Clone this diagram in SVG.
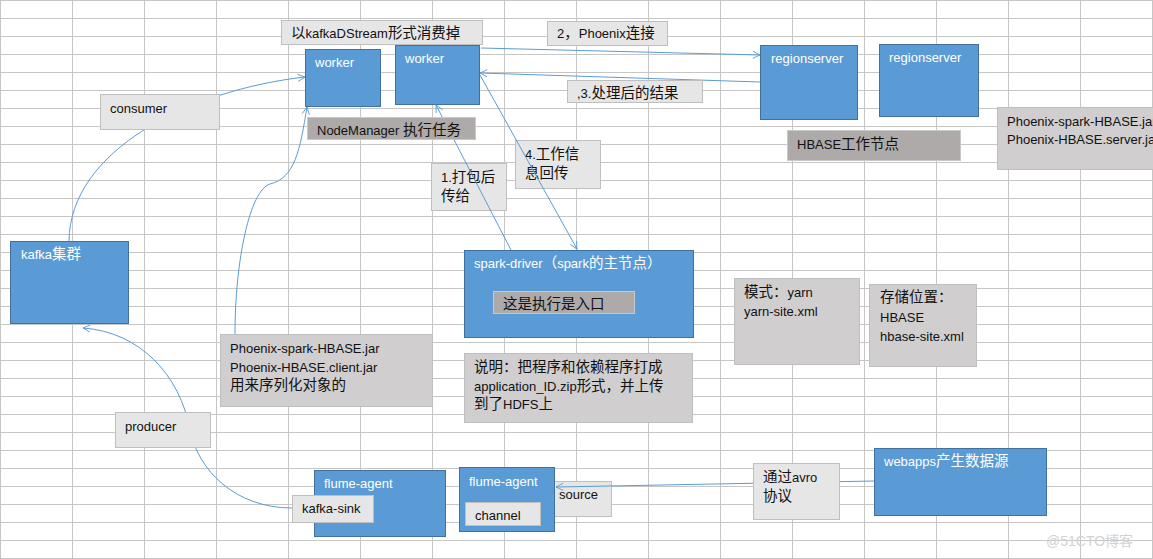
<svg xmlns="http://www.w3.org/2000/svg" width="1153" height="559" viewBox="0 0 1153 559">
<defs>
<pattern id="grid" patternUnits="userSpaceOnUse" x="0" y="0" width="72" height="18">
<path d="M0.5,0 V18 M0,0.5 H72" fill="none" stroke="#c6c6c6" stroke-width="1"/>
</pattern>
<marker id="ah" viewBox="0 0 10 10" refX="9" refY="5" markerWidth="9" markerHeight="9" orient="auto" markerUnits="userSpaceOnUse">
<path d="M1,1 L9,5 L1,9" fill="none" stroke="#5b9bd5" stroke-width="1"/>
</marker>
</defs>
<style>
text{font-family:"Liberation Sans","Noto Sans CJK SC",sans-serif;font-size:13px;fill:#111}
.c{font-family:"Noto Sans CJK SC",sans-serif;font-size:14.5px}
.w{fill:#fff}
.blue{fill:#5b9bd5;stroke:#41719c;stroke-width:1}
.l1{fill:#e7e6e6;stroke:#bfbfbf;stroke-width:1}
.l2{fill:#d0cece;stroke:#bfbfbf;stroke-width:1}
.l3{fill:#aeaaaa;stroke:#c9c9c9;stroke-width:1}
.conn{fill:none;stroke:#5b9bd5;stroke-width:1;marker-end:url(#ah)}
</style>
<rect x="0" y="0" width="1153" height="559" fill="#fff"/>
<rect x="0" y="0" width="1153" height="559" fill="url(#grid)"/>

<g id="label-1"><rect class="l1" x="431.5" y="163.5" width="75" height="47"/><text x="441" y="182">1.<tspan class="c">打包后</tspan></text><text x="441" y="201" class="c">传给</text></g>
<g id="label-4"><rect class="l1" x="515.5" y="140.5" width="85" height="48"/><text x="525" y="158.5">4.<tspan class="c">工作信</tspan></text><text x="525" y="177.5" class="c">息回传</text></g>

<g id="worker1"><rect class="blue" x="305.5" y="49.5" width="75" height="57"/><text class="w" x="315" y="67">worker</text></g>
<g id="worker2"><rect class="blue" x="395.5" y="45.5" width="84" height="59"/><text class="w" x="405" y="63">worker</text></g>
<g id="regionserver1"><rect class="blue" x="760.5" y="45.5" width="97" height="74"/><text class="w" x="771" y="63">regionserver</text></g>
<g id="regionserver2"><rect class="blue" x="879.5" y="44.5" width="99" height="72"/><text class="w" x="889" y="62">regionserver</text></g>
<g id="kafka"><rect class="blue" x="10.5" y="241.5" width="118" height="82"/><text class="w" x="21" y="259">kafka<tspan class="c w">集群</tspan></text></g>
<g id="spark-driver"><rect class="blue" x="464.5" y="250.5" width="229" height="87"/><text class="w" x="474" y="268">spark-driver<tspan class="c w">（</tspan>spark<tspan class="c w">的主节点）</tspan></text></g>
<g id="webapps"><rect class="blue" x="874.5" y="448.5" width="172" height="67"/><text class="w" x="884" y="466">webapps<tspan class="c w">产生数据源</tspan></text></g>
<g id="source"><rect class="l1" x="545.5" y="481.5" width="66" height="35"/><text x="559" y="499">source</text></g>
<g id="flume-agent2"><rect class="blue" x="459.5" y="467.5" width="95" height="64"/><text class="w" x="469" y="486">flume-agent</text></g>
<g id="channel"><rect class="l1" x="465.5" y="502.5" width="75" height="23"/><text x="475" y="520">channel</text></g>

<g id="connectors">
<path class="conn" d="M69,241 C70,150 190,90 305,77"/>
<path class="conn" d="M235,334 C235,260 250,190 270,184 C295,178 300,150 307,107"/>
<path class="conn" d="M292,508 C235,508 198,470 190,430 C180,375 140,332 83,328"/>
<path class="conn" d="M481,48 L760,55"/>
<path class="conn" d="M760,82 L480,73"/>
<path class="conn" d="M511,250 L436,105"/>
<path class="conn" d="M480,75 L577,249"/>
<path class="conn" d="M874,481 L556,487"/>
</g>

<g id="label-kafkadstream"><rect class="l1" x="281.5" y="20.5" width="201" height="24"/><text x="291" y="38"><tspan class="c">以</tspan>kafkaDStream<tspan class="c">形式消费掉</tspan></text></g>
<g id="label-phoenix-conn"><rect class="l1" x="547.5" y="21.5" width="120" height="24"/><text x="557" y="38">2<tspan class="c">，</tspan>Phoenix<tspan class="c">连接</tspan></text></g>
<g id="label-result"><rect class="l1" x="567.5" y="80.5" width="135" height="22"/><text x="577" y="98">,3.<tspan class="c">处理后的结果</tspan></text></g>
<g id="nodemanager"><rect class="l3" x="307.5" y="117.5" width="168" height="22"/><text x="317" y="135">NodeManager <tspan class="c">执行任务</tspan></text></g>
<g id="hbase-node"><rect class="l3" x="787.5" y="130.5" width="173" height="30"/><text x="797" y="149">HBASE<tspan class="c">工作节点</tspan></text></g>
<g id="server-jars"><rect class="l2" x="997.5" y="107.5" width="170" height="62"/><text x="1007" y="126">Phoenix-spark-HBASE.jar</text><text x="1007" y="144">Phoenix-HBASE.server.jar</text></g>
<g id="consumer"><rect class="l1" x="100.5" y="94.5" width="119" height="35"/><text x="110" y="113">consumer</text></g>
<g id="client-jars"><rect class="l2" x="220.5" y="334.5" width="212" height="72"/><text x="230" y="353">Phoenix-spark-HBASE.jar</text><text x="230" y="372">Phoenix-HBASE.client.jar</text><text x="230" y="390" class="c">用来序列化对象的</text></g>
<g id="producer"><rect class="l1" x="115.5" y="412.5" width="95" height="35"/><text x="125" y="431">producer</text></g>
<g id="flume-agent1"><rect class="blue" x="314.5" y="470.5" width="131" height="66"/><text class="w" x="324" y="488">flume-agent</text></g>
<g id="kafka-sink"><rect class="l1" x="292.5" y="495.5" width="81" height="27"/><text x="302" y="513">kafka-sink</text></g>
<g id="avro"><rect class="l1" x="753.5" y="463.5" width="86" height="56"/><text x="763" y="482"><tspan class="c">通过</tspan>avro</text><text x="763" y="501" class="c">协议</text></g>
<g id="entry"><rect class="l3" x="493.5" y="291.5" width="141" height="22"/><text x="503" y="309" class="c">这是执行是入口</text></g>
<g id="description"><rect class="l2" x="464.5" y="353.5" width="228" height="69"/><text x="474" y="372" class="c">说明：把程序和依赖程序打成</text><text x="474" y="391">application_ID.zip<tspan class="c">形式，并上传</tspan></text><text x="474" y="409"><tspan class="c">到了</tspan>HDFS<tspan class="c">上</tspan></text></g>
<g id="mode"><rect class="l2" x="734.5" y="278.5" width="125" height="86"/><text x="744" y="297"><tspan class="c">模式：</tspan>yarn</text><text x="744" y="316">yarn-site.xml</text></g>
<g id="storage"><rect class="l2" x="869.5" y="284.5" width="107" height="82"/><text x="880" y="302" class="c">存储位置：</text><text x="880" y="322">HBASE</text><text x="880" y="341">hbase-site.xml</text></g>
<g id="watermark"><text x="1046" y="546" style="font-size:14px;fill:#d2d2d2">@51CTO<tspan style="font-family:'Noto Sans CJK SC',sans-serif;font-size:14px">博客</tspan></text></g>
</svg>
